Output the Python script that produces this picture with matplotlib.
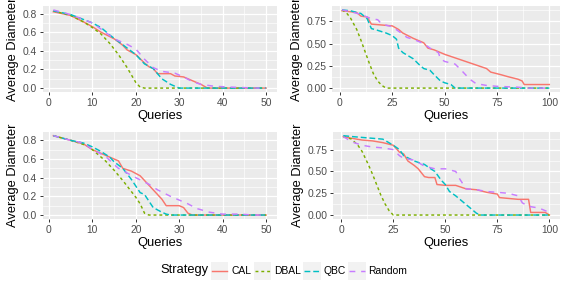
import matplotlib
matplotlib.use("Agg")
import matplotlib.pyplot as plt
from matplotlib.patches import Rectangle
import numpy as np

plt.rcParams['font.family'] = ['Liberation Sans', 'DejaVu Sans']

strategies = ["CAL", "DBAL", "QBC", "Random"]
colors = {"CAL": "#F8766D", "DBAL": "#7CAE00", "QBC": "#00BFC4", "Random": "#C77CFF"}
dashes = {"CAL": None, "DBAL": (2, 2), "QBC": (4, 2), "Random": (4, 4)}

# --- panel 1 (top-left), queries 1..50
tl_cal_x = [1, 5, 8, 10, 12, 15, 17, 18, 20, 22, 23, 24, 25, 28, 29, 31, 33, 35, 36.5, 50]
tl_cal_y = [0.82, 0.78, 0.71, 0.66, 0.60, 0.53, 0.46, 0.41, 0.36, 0.27, 0.23, 0.21, 0.155, 0.155, 0.13, 0.12, 0.08, 0.04, 0.0, 0.0]
tl_dbal_x = [1, 5, 8, 10, 12, 14, 16, 18, 19, 20, 21, 22, 50]
tl_dbal_y = [0.83, 0.78, 0.71, 0.65, 0.58, 0.48, 0.36, 0.22, 0.14, 0.06, 0.01, 0.0, 0.0]
tl_qbc_x = [1, 5, 10, 12, 14, 16, 18, 20, 22, 24, 26, 28, 30, 50]
tl_qbc_y = [0.83, 0.79, 0.70, 0.65, 0.57, 0.50, 0.43, 0.36, 0.26, 0.21, 0.10, 0.04, 0.0, 0.0]
tl_rnd_x = [1, 5, 10, 13, 15, 18, 20, 22, 24, 26, 29, 31, 33, 35, 38, 42, 48, 50]
tl_rnd_y = [0.84, 0.79, 0.70, 0.60, 0.53, 0.47, 0.42, 0.31, 0.22, 0.18, 0.16, 0.12, 0.07, 0.04, 0.02, 0.01, 0.0, 0.0]

# --- panel 2 (top-right), queries 1..100
tr_cal_x = [1, 5, 8, 10, 13, 15, 20, 25, 28, 30, 35, 40, 42, 45, 50, 55, 60, 65, 70, 72, 77, 80, 85, 87, 88, 100]
tr_cal_y = [0.87, 0.86, 0.85, 0.81, 0.80, 0.72, 0.71, 0.70, 0.66, 0.62, 0.56, 0.51, 0.45, 0.43, 0.38, 0.34, 0.30, 0.26, 0.22, 0.18, 0.15, 0.13, 0.10, 0.08, 0.04, 0.04]
tr_dbal_x = [1, 3, 5, 8, 10, 12, 14, 16, 18, 20, 22, 100]
tr_dbal_y = [0.88, 0.85, 0.79, 0.66, 0.54, 0.41, 0.28, 0.16, 0.08, 0.03, 0.0, 0.0]
tr_qbc_x = [1, 5, 10, 13, 15, 18, 22, 25, 27, 28, 30, 35, 38, 40, 43, 45, 48, 50, 53, 55, 100]
tr_qbc_y = [0.88, 0.87, 0.84, 0.78, 0.67, 0.65, 0.62, 0.59, 0.55, 0.45, 0.40, 0.33, 0.26, 0.22, 0.20, 0.15, 0.08, 0.06, 0.04, 0.0, 0.0]
tr_rnd_x = [1, 5, 10, 15, 18, 20, 25, 28, 32, 35, 40, 43, 47, 48, 50, 55, 58, 62, 65, 70, 75, 85, 90, 100]
tr_rnd_y = [0.88, 0.86, 0.83, 0.78, 0.77, 0.72, 0.69, 0.64, 0.57, 0.55, 0.50, 0.45, 0.40, 0.33, 0.30, 0.27, 0.20, 0.10, 0.05, 0.03, 0.02, 0.01, 0.0, 0.0]

# --- panel 3 (bottom-left), queries 1..50
bl_cal_x = [1, 5, 8, 10, 12, 14, 16, 17, 19, 21, 23, 25, 26, 27, 30, 31, 32, 33, 50]
bl_cal_y = [0.85, 0.80, 0.76, 0.70, 0.66, 0.62, 0.58, 0.50, 0.47, 0.42, 0.32, 0.22, 0.17, 0.10, 0.10, 0.08, 0.02, 0.0, 0.0]
bl_dbal_x = [1, 5, 9, 11, 13, 15, 17, 19, 20, 21, 22, 23, 50]
bl_dbal_y = [0.85, 0.80, 0.74, 0.66, 0.58, 0.48, 0.37, 0.25, 0.19, 0.12, 0.02, 0.0, 0.0]
bl_qbc_x = [1, 5, 8, 10, 12, 14, 15, 17, 19, 20, 21, 22, 23, 24, 26, 27, 28, 50]
bl_qbc_y = [0.85, 0.80, 0.77, 0.73, 0.68, 0.62, 0.57, 0.50, 0.38, 0.31, 0.24, 0.22, 0.15, 0.08, 0.03, 0.01, 0.0, 0.0]
bl_rnd_x = [1, 5, 8, 10, 13, 15, 16, 18, 20, 23, 25, 28, 30, 32, 34, 37, 40, 44, 47, 50]
bl_rnd_y = [0.85, 0.80, 0.77, 0.70, 0.63, 0.54, 0.50, 0.45, 0.40, 0.33, 0.27, 0.20, 0.16, 0.12, 0.07, 0.03, 0.01, 0.01, 0.0, 0.0]

# --- panel 4 (bottom-right), queries 1..100
br_cal_x = [1, 5, 10, 15, 20, 25, 28, 30, 32, 35, 37, 38, 40, 42, 45, 46, 50, 55, 60, 65, 70, 75, 76, 85, 90, 91, 98, 100]
br_cal_y = [0.90, 0.88, 0.86, 0.85, 0.83, 0.80, 0.72, 0.70, 0.62, 0.57, 0.53, 0.50, 0.44, 0.43, 0.43, 0.35, 0.34, 0.34, 0.30, 0.29, 0.26, 0.24, 0.20, 0.18, 0.18, 0.03, 0.03, 0.0]
br_dbal_x = [1, 5, 8, 10, 13, 15, 17, 19, 21, 23, 25, 100]
br_dbal_y = [0.90, 0.87, 0.80, 0.73, 0.58, 0.47, 0.35, 0.23, 0.13, 0.05, 0.0, 0.0]
br_qbc_x = [1, 5, 10, 20, 25, 28, 30, 35, 40, 43, 45, 48, 50, 52, 55, 58, 62, 65, 67, 100]
br_qbc_y = [0.91, 0.90, 0.89, 0.87, 0.80, 0.75, 0.68, 0.62, 0.58, 0.53, 0.50, 0.40, 0.35, 0.27, 0.22, 0.16, 0.08, 0.02, 0.0, 0.0]
br_rnd_x = [1, 5, 10, 15, 20, 25, 28, 30, 35, 40, 45, 50, 55, 57, 60, 65, 70, 75, 80, 85, 87, 90, 95, 99, 100]
br_rnd_y = [0.90, 0.84, 0.80, 0.78, 0.77, 0.75, 0.68, 0.65, 0.63, 0.56, 0.53, 0.53, 0.50, 0.41, 0.30, 0.29, 0.27, 0.26, 0.25, 0.22, 0.14, 0.10, 0.08, 0.04, 0.02]

panels = [
    {"series": {"CAL": (tl_cal_x, tl_cal_y), "DBAL": (tl_dbal_x, tl_dbal_y),
                "QBC": (tl_qbc_x, tl_qbc_y), "Random": (tl_rnd_x, tl_rnd_y)},
     "xt": [0, 10, 20, 30, 40, 50], "yt": [0.0, 0.2, 0.4, 0.6, 0.8], "yfmt": "{:.1f}",
     "box": (42.7, 6, 276.7, 92)},
    {"series": {"CAL": (tr_cal_x, tr_cal_y), "DBAL": (tr_dbal_x, tr_dbal_y),
                "QBC": (tr_qbc_x, tr_qbc_y), "Random": (tr_rnd_x, tr_rnd_y)},
     "xt": [0, 25, 50, 75, 100], "yt": [0.0, 0.25, 0.5, 0.75], "yfmt": "{:.2f}",
     "box": (331.7, 6, 559.7, 92)},
    {"series": {"CAL": (bl_cal_x, bl_cal_y), "DBAL": (bl_dbal_x, bl_dbal_y),
                "QBC": (bl_qbc_x, bl_qbc_y), "Random": (bl_rnd_x, bl_rnd_y)},
     "xt": [0, 10, 20, 30, 40, 50], "yt": [0.0, 0.2, 0.4, 0.6, 0.8], "yfmt": "{:.1f}",
     "box": (42.7, 131.7, 276.7, 219)},
    {"series": {"CAL": (br_cal_x, br_cal_y), "DBAL": (br_dbal_x, br_dbal_y),
                "QBC": (br_qbc_x, br_qbc_y), "Random": (br_rnd_x, br_rnd_y)},
     "xt": [0, 25, 50, 75, 100], "yt": [0.0, 0.25, 0.5, 0.75], "yfmt": "{:.2f}",
     "box": (333, 131.7, 559.7, 219)},
]

W, H = 566, 286
fig = plt.figure(figsize=(W / 100, H / 100), dpi=100)
fig.patch.set_facecolor("white")

LW = 1.05
TICK_FS = 7.4
TITLE_FS = 9.3

for p in panels:
    x0, y0, x1, y1 = p["box"]
    ax = fig.add_axes([x0 / W, 1 - y1 / H, (x1 - x0) / W, (y1 - y0) / H])
    ax.set_facecolor("#EBEBEB")
    for s in ax.spines.values():
        s.set_visible(False)

    allx = np.concatenate([np.array(v[0], float) for v in p["series"].values()])
    ally = np.concatenate([np.array(v[1], float) for v in p["series"].values()])
    xr = allx.max() - allx.min()
    yr = ally.max() - ally.min()
    xlim = (allx.min() - 0.05 * xr, allx.max() + 0.05 * xr)
    ylim = (ally.min() - 0.05 * yr, ally.max() + 0.05 * yr)

    xt = p["xt"]
    yt = p["yt"]
    xminor = [(a + b) / 2 for a, b in zip(xt[:-1], xt[1:])]
    yminor = [(a + b) / 2 for a, b in zip(yt[:-1], yt[1:])]
    yminor.append(yt[-1] + (yt[1] - yt[0]) / 2)
    for v in xminor:
        ax.axvline(v, color="white", lw=0.45, zorder=0.5)
    for v in yminor:
        ax.axhline(v, color="white", lw=0.45, zorder=0.5)
    for v in xt:
        ax.axvline(v, color="white", lw=0.9, zorder=0.6)
    for v in yt:
        ax.axhline(v, color="white", lw=0.9, zorder=0.6)

    for name in strategies:
        xs, ys = p["series"][name]
        line, = ax.plot(xs, ys, color=colors[name], lw=LW, zorder=2)
        if dashes[name] is not None:
            line.set_dashes(dashes[name])

    ax.set_xlim(*xlim)
    ax.set_ylim(*ylim)
    ax.set_xticks(xt)
    ax.set_xticklabels([str(v) for v in xt])
    ax.set_yticks(yt)
    ax.set_yticklabels([p["yfmt"].format(v) for v in yt])
    ax.tick_params(axis="both", length=2.5, width=0.7, color="#333333",
                   labelsize=TICK_FS, labelcolor="#4D4D4D", pad=1.5)
    ax.set_xlabel("Queries", fontsize=TITLE_FS, labelpad=1.5)
    ax.set_ylabel("Average Diameter", fontsize=TITLE_FS, labelpad=2.5)

# legend (bottom, horizontal, ggplot style)
lax = fig.add_axes([0, 0, 1, 1], zorder=5)
lax.set_xlim(0, W)
lax.set_ylim(H, 0)
lax.axis("off")
lax.patch.set_alpha(0)
ymid = 270.5
lax.text(160, ymid, "Strategy", fontsize=TITLE_FS, va="center", ha="left")
key_x = [211, 254, 303.3, 348.3]
for kx, name in zip(key_x, strategies):
    lax.add_patch(Rectangle((kx, ymid - 9), 17.3, 18, facecolor="#F2F2F2", edgecolor="none"))
    ln, = lax.plot([kx + 1, kx + 16.3], [ymid, ymid], color=colors[name], lw=LW)
    if dashes[name] is not None:
        ln.set_dashes(dashes[name])
    lax.text(kx + 20, ymid, name, fontsize=TICK_FS, va="center", ha="left", color="black")

fig.savefig("out.png", dpi=100)
